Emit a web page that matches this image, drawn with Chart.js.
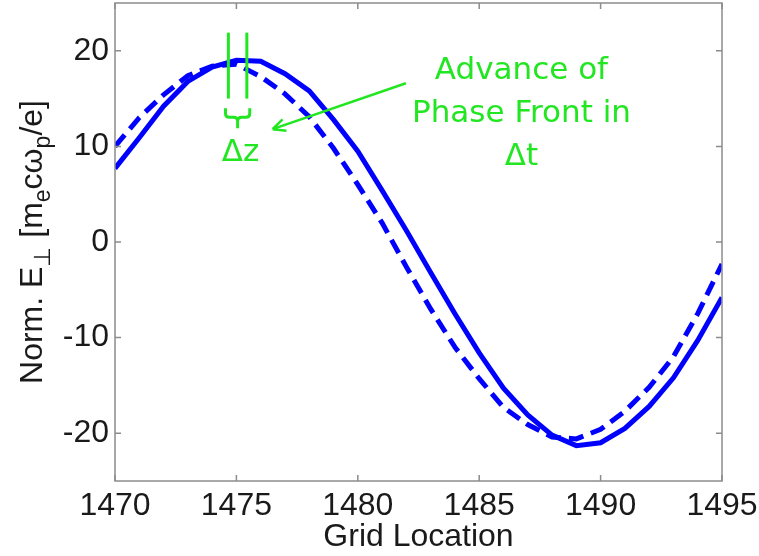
<!DOCTYPE html>
<html>
<head>
<meta charset="utf-8">
<script src="https://cdn.jsdelivr.net/npm/chart.js@4/dist/chart.umd.min.js"></script>
<style>
  html, body { margin: 0; padding: 0; background: #fff; }
  #wrap { width: 759px; height: 556px; position: relative; }
</style>
</head>
<body>
<div id="wrap"><canvas id="field-chart"></canvas></div>
<script>
// grid location along z
const gridLoc = [1470, 1471, 1472, 1473, 1474, 1475, 1476, 1477, 1478, 1479, 1480, 1481, 1482,
                 1483, 1484, 1485, 1486, 1487, 1488, 1489, 1490, 1491, 1492, 1493, 1494, 1495];
// transverse field, later time step (solid)
const fieldLater = [7.7, 10.9, 14.2, 16.8, 18.3, 19.0, 18.9, 17.6, 15.8, 12.8, 9.5, 5.4, 1.2,
                    -3.2, -7.5, -11.6, -15.3, -18.1, -20.2, -21.3, -21.0, -19.5, -17.2, -14.2, -10.3, -5.8];
// transverse field, earlier time step (dashed)
const fieldEarlier = [10.0, 13.0, 15.4, 17.4, 18.4, 18.6, 17.3, 15.5, 13.1, 9.8, 6.0, 2.0, -2.6,
                      -7.0, -11.0, -14.3, -17.3, -19.1, -20.4, -20.6, -19.6, -17.7, -15.2, -12.0, -7.5, -2.3];

const xTicks = [1470, 1475, 1480, 1485, 1490, 1495];
const yTicks = [-20, -10, 0, 10, 20];

const AXIS_GREY = '#8c8c8c';
const GREEN = '#22e622';
const LABEL_FONT = 'Liberation Sans, Arial, sans-serif';
const NOTE_FONT = 'DejaVu Sans, Verdana, sans-serif';

function pts(ys) {
  return gridLoc.map((x, i) => ({ x: x, y: ys[i] }));
}

// inward tick marks and a closed box around the plot, MATLAB style
const boxTicks = {
  id: 'boxTicks',
  afterDraw(chart) {
    const { ctx, chartArea: a, scales: { x, y } } = chart;
    const len = 6;
    ctx.save();
    ctx.strokeStyle = AXIS_GREY;
    ctx.lineWidth = 1.5;
    ctx.strokeRect(a.left, a.top, a.right - a.left, a.bottom - a.top);
    ctx.beginPath();
    xTicks.forEach(v => {
      const px = x.getPixelForValue(v);
      ctx.moveTo(px, a.bottom); ctx.lineTo(px, a.bottom - len);
      ctx.moveTo(px, a.top); ctx.lineTo(px, a.top + len);
    });
    yTicks.forEach(v => {
      const py = y.getPixelForValue(v);
      ctx.moveTo(a.left, py); ctx.lineTo(a.left + len, py);
      ctx.moveTo(a.right, py); ctx.lineTo(a.right - len, py);
    });
    ctx.stroke();
    ctx.restore();
  }
};

// y axis title with subscript pieces, drawn rotated
const yTitle = {
  id: 'yTitle',
  afterDraw(chart) {
    const { ctx, chartArea: a } = chart;
    const big = 32, small = 23;
    const parts = [
      ['Norm. E', big, 0],
      ['\u22A5', small, 8],
      [' [m', big, 0],
      ['e', small, 8],
      ['c\u03C9', big, 0],
      ['p', small, 8],
      ['/e]', big, 0]
    ];
    ctx.save();
    ctx.fillStyle = '#1a1a1a';
    let total = 0;
    parts.forEach(p => { ctx.font = p[1] + 'px ' + LABEL_FONT; total += ctx.measureText(p[0]).width; });
    ctx.translate(42, (a.top + a.bottom) / 2);
    ctx.rotate(-Math.PI / 2);
    ctx.textBaseline = 'alphabetic';
    ctx.textAlign = 'left';
    let cx = -total / 2;
    parts.forEach(p => {
      ctx.font = p[1] + 'px ' + LABEL_FONT;
      ctx.fillText(p[0], cx, p[2]);
      cx += ctx.measureText(p[0]).width;
    });
    ctx.restore();
  }
};

// phase-front markers, brace, arrow and note text
const phaseNote = {
  id: 'phaseNote',
  afterDatasetsDraw(chart) {
    const { ctx, scales: { x, y } } = chart;
    const X = v => x.getPixelForValue(v);
    const Y = v => y.getPixelForValue(v);
    ctx.save();
    ctx.strokeStyle = GREEN;
    ctx.fillStyle = GREEN;
    ctx.lineWidth = 3;
    ctx.lineCap = 'butt';

    // the two phase positions
    [1474.67, 1475.43].forEach(v => {
      ctx.beginPath();
      ctx.moveTo(X(v), Y(21.9));
      ctx.lineTo(X(v), Y(15.0));
      ctx.stroke();
    });

    // horizontal curly brace under them
    const l = X(1474.55), r = X(1475.55), m = (l + r) / 2, t = Y(14.0);
    ctx.beginPath();
    ctx.moveTo(l, t);
    ctx.lineTo(l, t + 5);
    ctx.quadraticCurveTo(l, t + 9, l + 4, t + 9);
    ctx.lineTo(m - 4, t + 9);
    ctx.quadraticCurveTo(m, t + 9, m, t + 13);
    ctx.quadraticCurveTo(m, t + 9, m + 4, t + 9);
    ctx.lineTo(r - 4, t + 9);
    ctx.quadraticCurveTo(r, t + 9, r, t + 5);
    ctx.lineTo(r, t);
    ctx.moveTo(m, t + 13);
    ctx.lineTo(m, t + 20);
    ctx.stroke();

    // arrow pointing at the brace label
    const x0 = X(1481.98), y0 = Y(16.6), x1 = X(1476.49), y1 = Y(11.8);
    ctx.lineWidth = 2.5;
    ctx.beginPath();
    ctx.moveTo(x0, y0);
    ctx.lineTo(x1, y1);
    const ang = Math.atan2(y1 - y0, x1 - x0);
    const head = 14, spread = 0.45;
    ctx.moveTo(x1, y1);
    ctx.lineTo(x1 - head * Math.cos(ang - spread), y1 - head * Math.sin(ang - spread));
    ctx.moveTo(x1, y1);
    ctx.lineTo(x1 - head * Math.cos(ang + spread), y1 - head * Math.sin(ang + spread));
    ctx.stroke();

    ctx.font = '31px ' + NOTE_FONT;
    ctx.textAlign = 'center';
    ctx.textBaseline = 'alphabetic';
    ctx.fillText('\u0394z', X(1475.17), Y(8.5));
    ctx.fillText('Advance of', X(1486.74), Y(17.0));
    ctx.fillText('Phase Front in', X(1486.74), Y(12.6));
    ctx.fillText('\u0394t', X(1486.74), Y(8.1));
    ctx.restore();
  }
};

new Chart(document.getElementById('field-chart'), {
  type: 'line',
  data: {
    datasets: [
      {
        label: 't + \u0394t',
        data: pts(fieldLater),
        borderColor: '#0000ff',
        borderWidth: 5,
        pointRadius: 0,
        tension: 0
      },
      {
        label: 't',
        data: pts(fieldEarlier),
        borderColor: '#0000ff',
        borderWidth: 5,
        borderDash: [15, 8],
        pointRadius: 0,
        tension: 0
      }
    ]
  },
  options: {
    responsive: true,
    maintainAspectRatio: false,
    animation: false,
    events: [],
    layout: { padding: { top: 3, right: 37, left: 0, bottom: 0 } },
    plugins: {
      legend: { display: false },
      tooltip: { enabled: false }
    },
    scales: {
      x: {
        type: 'linear',
        min: 1470,
        max: 1495,
        afterBuildTicks: s => { s.ticks = xTicks.map(v => ({ value: v })); },
        afterFit: s => { s.height = 75; s.paddingLeft = 0; s.paddingRight = 0; },
        grid: { display: false, drawTicks: false },
        border: { display: false },
        ticks: {
          padding: 6,
          color: '#1a1a1a',
          font: { family: LABEL_FONT, size: 32 },
          maxRotation: 0,
          callback: v => String(v)
        },
        title: {
          display: true,
          text: 'Grid Location',
          color: '#1a1a1a',
          font: { family: LABEL_FONT, size: 32 },
          padding: { top: -6, bottom: 0 }
        }
      },
      y: {
        min: -25,
        max: 25,
        afterBuildTicks: s => { s.ticks = yTicks.map(v => ({ value: v })); },
        afterFit: s => { s.width = 115; s.paddingTop = 0; s.paddingBottom = 0; },
        grid: { display: false, drawTicks: false },
        border: { display: false },
        ticks: {
          padding: 6,
          color: '#1a1a1a',
          font: { family: LABEL_FONT, size: 32 }
        }
      }
    }
  },
  plugins: [boxTicks, yTitle, phaseNote]
});
</script>
</body>
</html>
